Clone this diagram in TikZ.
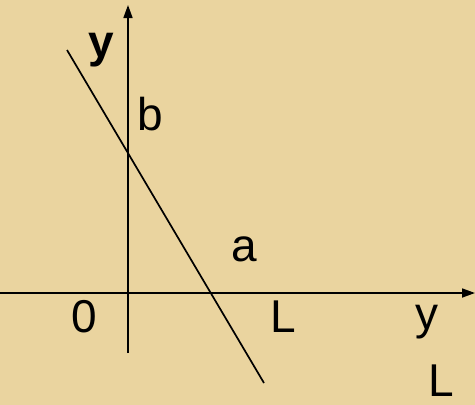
\documentclass[tikz,border=0pt]{standalone}
\usepackage{fontspec}
\setmainfont{Liberation Sans}
\usetikzlibrary{arrows.meta}
\definecolor{paper}{HTML}{EAD49F}
\definecolor{ink}{HTML}{000000}

\begin{document}
\begin{tikzpicture}[
  x=1pt,
  y=-1pt,
  line width=1.7pt,
  ink,
  lbl/.style={inner sep=0pt,anchor=base,font=\fontsize{46}{50}\selectfont}
]
  \fill[paper] (0,0) rectangle (475,405);
  \useasboundingbox (0,0) rectangle (475,405);

  \coordinate (Xs) at (0,293);
  \coordinate (Xe) at (475,293);
  \coordinate (Ys) at (128,353);
  \coordinate (Ye) at (128,5);
  \coordinate (P) at (67,50);
  \coordinate (Q) at (264,383);

  \draw[-{Triangle[length=13pt,width=9pt]}] (Xs)--(Xe);
  \draw[-{Triangle[length=13pt,width=9pt]}] (Ys)--(Ye);
  \draw (P)--(Q);

  \node[lbl,font=\fontsize{46}{50}\selectfont\bfseries] (ylab) at (101,57) {y};
  \node[lbl] (blab) at (150,130) {b};
  \node[lbl] (alab) at (244,261) {a};
  \node[lbl] (zero) at (84,332) {0};
  \node[lbl] (L1) at (283,332) {L};
  \node[lbl] (y2) at (426.5,329) {y};
  \node[lbl] (L2) at (441.5,396) {L};
\end{tikzpicture}
\end{document}
